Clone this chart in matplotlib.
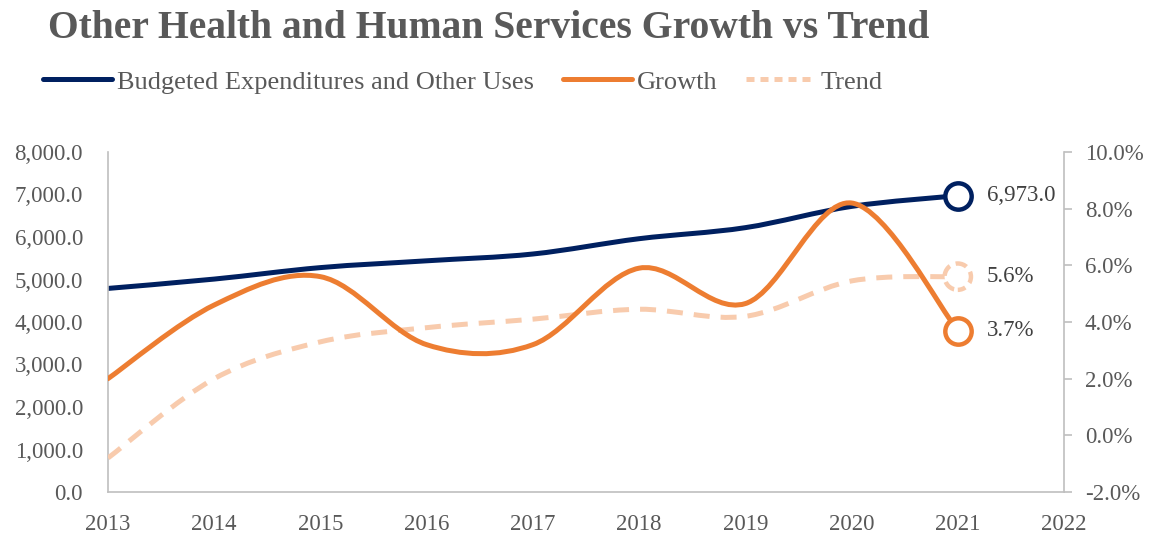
import numpy as np
import matplotlib.pyplot as plt
from matplotlib.path import Path
from matplotlib.patches import PathPatch
from matplotlib.lines import Line2D
from matplotlib.ticker import FuncFormatter

plt.rcParams['font.family'] = ['Liberation Serif', 'DejaVu Serif']

# data
years = [2013, 2014, 2015, 2016, 2017, 2018, 2019, 2020, 2021]
budget = [4790, 5010, 5280, 5440, 5600, 5960, 6220, 6720, 6973]   # left axis
growth = [2.0, 4.6, 5.6, 3.2, 3.2, 5.9, 4.65, 8.2, 3.7]           # right axis, %
trend = [-0.8, 2.0, 3.3, 3.8, 4.1, 4.45, 4.2, 5.45, 5.6]          # right axis, %

NAVY = '#002060'
ORANGE = '#ED7D31'
PEACH = '#F8CBAD'
GRAY = '#595959'
AXGRAY = '#BFBFBF'
FS = 16.5


def smooth_path(x, y):
    # excel-like smoothed line: catmull-rom segments as cubic beziers
    pts = np.column_stack([np.asarray(x, float), np.asarray(y, float)])
    n = len(pts)
    verts = [pts[0]]
    codes = [Path.MOVETO]
    for i in range(n - 1):
        p0 = pts[i - 1] if i > 0 else pts[i]
        p3 = pts[i + 2] if i + 2 < n else pts[i + 1]
        c1 = pts[i] + (pts[i + 1] - p0) / 6
        c2 = pts[i + 1] - (p3 - pts[i]) / 6
        verts += [c1, c2, pts[i + 1]]
        codes += [Path.CURVE4] * 3
    return Path(verts, codes)


fig = plt.figure(figsize=(11.51, 5.38), dpi=100)
ax = fig.add_axes([108 / 1151, 46 / 538, 956 / 1151, 340 / 538])
ax2 = ax.twinx()

lw = 3.6
ax.add_patch(PathPatch(smooth_path(years, budget), fill=False, edgecolor=NAVY,
                       lw=lw, capstyle='round', joinstyle='round'))
ax2.add_patch(PathPatch(smooth_path(years, trend), fill=False, edgecolor=PEACH,
                        lw=lw, linestyle=(0, (3.2, 2.2)), capstyle='butt'))
ax2.add_patch(PathPatch(smooth_path(years, growth), fill=False, edgecolor=ORANGE,
                        lw=lw, capstyle='round', joinstyle='round'))

# end markers
ms = 360
ax.scatter([years[-1]], [budget[-1]], s=ms, facecolor='white', edgecolor=NAVY,
           linewidths=3.2, zorder=5, clip_on=False)
ax2.scatter([years[-1]], [trend[-1]], s=ms, facecolor='white', edgecolor=PEACH,
            linewidths=3.2, linestyle=(0.8, (2.6, 1.4)), zorder=5, clip_on=False)
ax2.scatter([years[-1]], [growth[-1]], s=ms, facecolor='white', edgecolor=ORANGE,
            linewidths=3.2, zorder=6, clip_on=False)

lab_kw = dict(textcoords='offset points', xytext=(21, 0), va='center', ha='left',
              fontsize=FS, color='#404040')
ax.annotate(f'{budget[-1]:,.1f}', xy=(years[-1], budget[-1]), **lab_kw)
ax2.annotate(f'{trend[-1]:.1f}%', xy=(years[-1], trend[-1]), **lab_kw)
ax2.annotate(f'{growth[-1]:.1f}%', xy=(years[-1], growth[-1]), **lab_kw)

ax.set_xlim(2013, 2022)
ax.set_ylim(0, 8000)
ax2.set_ylim(-2, 10)
ax.set_xticks(range(2013, 2023))
ax.set_yticks(range(0, 8001, 1000))
ax2.set_yticks(range(-2, 11, 2))
ax.yaxis.set_major_formatter(FuncFormatter(lambda v, p: f'{v:,.1f}'))
ax2.yaxis.set_major_formatter(FuncFormatter(lambda v, p: f'{v:.1f}%'))

for a in (ax, ax2):
    for s in a.spines.values():
        s.set_color(AXGRAY)
        s.set_linewidth(1.2)
    a.spines['top'].set_visible(False)
ax.spines['right'].set_visible(False)
ax2.spines['left'].set_visible(False)
ax2.spines['bottom'].set_visible(False)

ax.tick_params(axis='y', length=0, pad=18, labelsize=FS, labelcolor=GRAY)
ax.tick_params(axis='x', length=0, pad=16, labelsize=FS, labelcolor=GRAY)
ax2.tick_params(axis='y', length=6, width=1.2, color=AXGRAY, pad=9,
                labelsize=FS, labelcolor=GRAY)

fig.text(48 / 1151, 1 - 29 / 538, 'Other Health and Human Services Growth vs Trend',
         fontsize=28.5, fontweight='bold', color=GRAY, va='center', ha='left')

handles = [
    Line2D([], [], color=NAVY, lw=lw, solid_capstyle='round'),
    Line2D([], [], color=ORANGE, lw=lw, solid_capstyle='round'),
    Line2D([], [], color=PEACH, lw=lw, linestyle=(0, (1.6, 1.2))),
]
labels = ['Budgeted Expenditures and Other Uses', 'Growth', 'Trend']
fig.legend(handles, labels, loc='center left', bbox_to_anchor=(43 / 1151, 1 - 82 / 538),
           ncol=3, frameon=False, fontsize=19, labelcolor=GRAY, handlelength=2.6,
           handletextpad=0.2, columnspacing=1.1, borderaxespad=0, borderpad=0)

fig.savefig('out.png', dpi=100)
